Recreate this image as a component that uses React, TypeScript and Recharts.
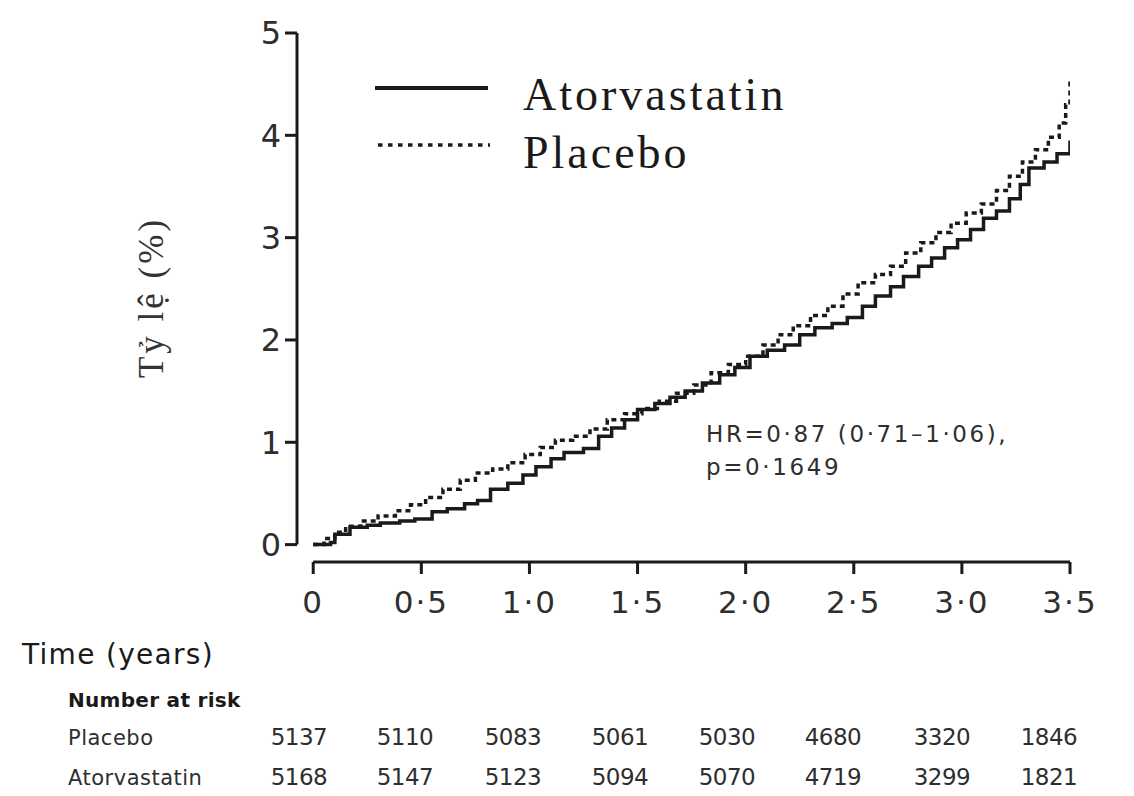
import React from 'react';
import { LineChart, Line, XAxis, YAxis, ReferenceLine, Customized } from 'recharts';

// ---- data ----
const atorTime = [0, 0.08, 0.1, 0.17, 0.25, 0.31, 0.4, 0.47, 0.55, 0.62, 0.7, 0.76, 0.82, 0.9, 0.97, 1.03, 1.1, 1.16, 1.25, 1.32, 1.38, 1.44, 1.5, 1.58, 1.65, 1.72, 1.8, 1.88, 1.95, 2.02, 2.1, 2.18, 2.25, 2.32, 2.4, 2.47, 2.54, 2.6, 2.67, 2.73, 2.8, 2.86, 2.92, 2.98, 3.04, 3.1, 3.16, 3.22, 3.27, 3.31, 3.38, 3.44, 3.5];
const atorRate = [0, 0.02, 0.1, 0.17, 0.19, 0.21, 0.23, 0.25, 0.32, 0.35, 0.4, 0.43, 0.54, 0.6, 0.68, 0.76, 0.84, 0.9, 0.94, 1.06, 1.14, 1.22, 1.32, 1.38, 1.44, 1.5, 1.58, 1.66, 1.73, 1.84, 1.9, 1.95, 2.05, 2.12, 2.16, 2.22, 2.33, 2.43, 2.52, 2.62, 2.72, 2.8, 2.9, 2.98, 3.08, 3.19, 3.26, 3.38, 3.52, 3.68, 3.74, 3.82, 3.95];

const placeboTime = [0, 0.05, 0.1, 0.15, 0.22, 0.3, 0.38, 0.45, 0.52, 0.6, 0.68, 0.75, 0.83, 0.9, 0.98, 1.05, 1.12, 1.2, 1.28, 1.36, 1.44, 1.52, 1.6, 1.68, 1.76, 1.84, 1.92, 2.0, 2.08, 2.15, 2.22, 2.3, 2.38, 2.45, 2.52, 2.6, 2.67, 2.74, 2.81, 2.88, 2.95, 3.02, 3.09, 3.16, 3.22, 3.28, 3.34, 3.4, 3.45, 3.48, 3.5];
const placeboRate = [0, 0.06, 0.12, 0.18, 0.23, 0.28, 0.33, 0.39, 0.46, 0.54, 0.63, 0.7, 0.74, 0.8, 0.88, 0.95, 1.02, 1.06, 1.13, 1.22, 1.28, 1.33, 1.4, 1.48, 1.56, 1.68, 1.76, 1.84, 1.95, 2.05, 2.14, 2.24, 2.33, 2.45, 2.56, 2.64, 2.72, 2.85, 2.95, 3.05, 3.14, 3.24, 3.33, 3.46, 3.6, 3.74, 3.86, 3.98, 4.12, 4.3, 4.56];

const xTicks = [0, 0.5, 1, 1.5, 2, 2.5, 3, 3.5];
const xTickLabels = ['0', '0·5', '1·0', '1·5', '2·0', '2·5', '3·0', '3·5'];
const yTicks = [0, 1, 2, 3, 4, 5];

const riskGroups = ['Placebo', 'Atorvastatin'];
const riskPlacebo = [5137, 5110, 5083, 5061, 5030, 4680, 3320, 1846];
const riskAtor = [5168, 5147, 5123, 5094, 5070, 4719, 3299, 1821];

const seriesNames = ['Atorvastatin', 'Placebo'];
const hrText = ['HR=0·87 (0·71–1·06),', 'p=0·1649'];

const X_MIN = -0.075;
const Y_MIN = -0.17;

const atorData = atorTime.map((t, i) => ({ t, v: atorRate[i] }));
const placeboData = placeboTime.map((t, i) => ({ t, v: placeboRate[i] }));

const SANS = '"DejaVu Sans", Verdana, sans-serif';
const SERIF = '"Liberation Serif", "Times New Roman", serif';
const INK = '#1a1a1a';
const GREY = '#2e2e2e';

const riskCols = [299, 405, 513, 620, 727, 833, 942, 1049];

const Annotations = () => (
  <g>
    {/* legend */}
    <line x1={375} y1={88} x2={488} y2={88} stroke={INK} strokeWidth={4} />
    <line x1={378} y1={145} x2={490} y2={145} stroke={INK} strokeWidth={3.5} strokeDasharray="4.5 5.5" />
    <text x={523} y={110} fontFamily={SERIF} fontSize={46} letterSpacing={3} fill={INK}>{seriesNames[0]}</text>
    <text x={523} y={168} fontFamily={SERIF} fontSize={46} letterSpacing={3} fill={INK}>{seriesNames[1]}</text>
    {/* HR */}
    <text x={706} y={442} fontFamily={SANS} fontSize={23} letterSpacing={2.6} fill={GREY}>{hrText[0]}</text>
    <text x={706} y={475} fontFamily={SANS} fontSize={23} letterSpacing={2.6} fill={GREY}>{hrText[1]}</text>
    {/* bottom table */}
    <text x={22} y={664} fontFamily={SANS} fontSize={28} letterSpacing={1.3} fill={INK}>Time (years)</text>
    <text x={68} y={707} fontFamily={SANS} fontSize={20} fontWeight="bold" letterSpacing={0.3} fill={INK}>Number at risk</text>
    <text x={68} y={745} fontFamily={SANS} fontSize={21} letterSpacing={0.5} fill={GREY}>{riskGroups[0]}</text>
    <text x={68} y={785} fontFamily={SANS} fontSize={21} letterSpacing={0.5} fill={GREY}>{riskGroups[1]}</text>
    {riskPlacebo.map((n, i) => (
      <text key={'p' + i} x={riskCols[i]} y={745} textAnchor="middle" fontFamily={SANS} fontSize={23} letterSpacing={-0.5} fill={GREY}>{n}</text>
    ))}
    {riskAtor.map((n, i) => (
      <text key={'a' + i} x={riskCols[i]} y={785} textAnchor="middle" fontFamily={SANS} fontSize={23} letterSpacing={-0.5} fill={GREY}>{n}</text>
    ))}
  </g>
);

export default function App() {
  return (
    <div style={{ position: 'absolute', left: 0, top: 0, width: 1134, height: 796, background: '#fff' }}>
      <LineChart width={1134} height={796} margin={{ top: 33, right: 64, bottom: 174, left: 0 }}>
        <XAxis
          type="number"
          dataKey="t"
          domain={[X_MIN, 3.5]}
          allowDataOverflow
          ticks={xTicks}
          tickFormatter={(v: number) => xTickLabels[xTicks.indexOf(v)] ?? String(v)}
          axisLine={false}
          tickLine={{ stroke: INK, strokeWidth: 3 }}
          tickSize={12}
          tickMargin={17}
          height={60}
          tick={{ fontFamily: SANS, fontSize: 31, letterSpacing: 2, fill: GREY }}
        />
        <YAxis
          type="number"
          dataKey="v"
          domain={[Y_MIN, 5]}
          allowDataOverflow
          ticks={yTicks}
          axisLine={false}
          tickLine={{ stroke: INK, strokeWidth: 3 }}
          tickSize={12}
          tickMargin={4}
          width={297}
          tick={{ fontFamily: SANS, fontSize: 32, fill: GREY }}
          label={{ value: 'Tỷ lệ (%)', angle: -90, position: 'center', fontFamily: SERIF, fontSize: 35, letterSpacing: 3, fill: '#333', dx: 2 }}
        />
        <ReferenceLine segment={[{ x: X_MIN, y: 0 }, { x: X_MIN, y: 5 }]} ifOverflow="visible" stroke={INK} strokeWidth={3} />
        <ReferenceLine segment={[{ x: 0, y: Y_MIN }, { x: 3.5, y: Y_MIN }]} ifOverflow="visible" stroke={INK} strokeWidth={3} />
        <Line data={placeboData} dataKey="v" type="stepAfter" stroke={INK} strokeWidth={3.5} strokeDasharray="5 4" dot={false} isAnimationActive={false} />
        <Line data={atorData} dataKey="v" type="stepAfter" stroke={INK} strokeWidth={3.5} dot={false} isAnimationActive={false} />
        <Customized component={Annotations} />
      </LineChart>
    </div>
  );
}
